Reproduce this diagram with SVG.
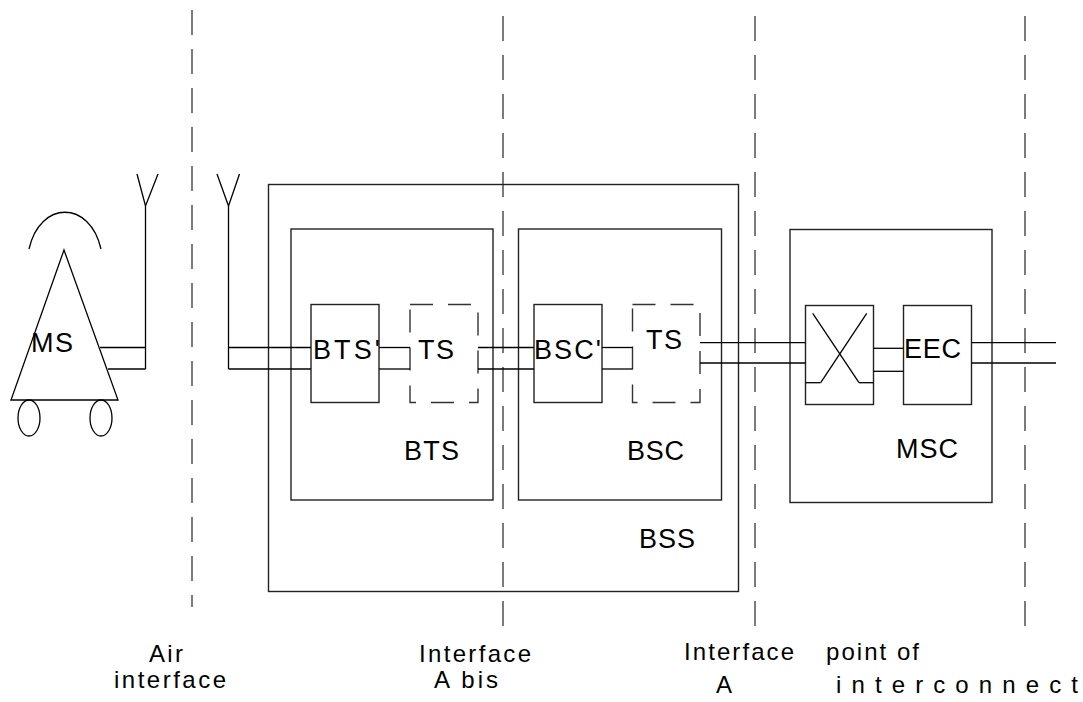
<svg xmlns="http://www.w3.org/2000/svg" width="1083" height="702" viewBox="0 0 1083 702">
<style>
.s{fill:none;stroke:#000;stroke-width:1.3}
.box{fill:none;stroke:#222;stroke-width:1.4}
.dbox{fill:none;stroke:#333;stroke-width:1.4;stroke-dasharray:23 15}
.iface{fill:none;stroke:#444;stroke-width:1.4;stroke-dasharray:25 14}
.lbl{font-family:"Liberation Sans",Arial,sans-serif;font-size:27px;fill:#000}
.cap{font-family:"Liberation Sans",Arial,sans-serif;font-size:24px;fill:#000}
</style>
<rect width="1083" height="702" fill="#fff"/>

<g id="interfaces">
<line class="iface" x1="192" y1="10" x2="192" y2="607"/>
<line class="iface" x1="503" y1="16" x2="503" y2="632"/>
<line class="iface" x1="755" y1="16" x2="755" y2="632"/>
<line class="iface" x1="1025" y1="16" x2="1025" y2="632"/>
</g>

<g id="MS">
<path class="s" d="M29,249 C40,200 90,200 101,249"/>
<polygon class="s" points="64,250 118,400 11,400"/>
<ellipse class="s" cx="29" cy="418" rx="11" ry="18"/>
<ellipse class="s" cx="101" cy="418" rx="11" ry="18"/>
<text class="lbl" x="31" y="352" textLength="42" lengthAdjust="spacing">MS</text>
</g>

<g id="antenna-ms">
<polyline class="s" points="137,174 145.5,206 158,174"/>
<line class="s" x1="145.5" y1="206" x2="145.5" y2="369"/>
</g>

<g id="antenna-bts">
<polyline class="s" points="217,174 228.5,206 239.5,174"/>
<line class="s" x1="228.5" y1="206" x2="228.5" y2="369"/>
</g>

<g id="BSS">
<rect class="box" x="268.5" y="184.5" width="470" height="407"/>
<text class="lbl" x="639" y="548" textLength="56" lengthAdjust="spacing">BSS</text>
</g>

<g id="BTS">
<rect class="box" x="291" y="229" width="202" height="271"/>
<text class="lbl" x="404" y="460" textLength="55" lengthAdjust="spacing">BTS</text>
</g>

<g id="BTS-prime">
<rect class="box" x="311" y="304.5" width="68" height="98"/>
<text class="lbl" x="313" y="359" textLength="67" lengthAdjust="spacing">BTS'</text>
</g>

<g id="TS-bts">
<rect class="dbox" x="410" y="304.5" width="68" height="98"/>
<text class="lbl" x="418" y="359" textLength="36" lengthAdjust="spacing">TS</text>
</g>

<g id="BSC">
<rect class="box" x="518.5" y="229" width="203" height="271"/>
<text class="lbl" x="627" y="460" textLength="57" lengthAdjust="spacing">BSC</text>
</g>

<g id="BSC-prime">
<rect class="box" x="534" y="304.5" width="68" height="98"/>
<text class="lbl" x="534" y="359" textLength="67" lengthAdjust="spacing">BSC'</text>
</g>

<g id="TS-bsc">
<rect class="dbox" x="632.5" y="304.5" width="67.5" height="98"/>
<text class="lbl" x="646" y="349" textLength="36" lengthAdjust="spacing">TS</text>
</g>

<g id="MSC">
<rect class="box" x="790" y="229.5" width="202" height="273"/>
<text class="lbl" x="896" y="458" textLength="62" lengthAdjust="spacing">MSC</text>
</g>

<g id="switch">
<rect class="box" x="805.5" y="305.5" width="68" height="99"/>
<line class="s" x1="812.7" y1="313.3" x2="859" y2="382.7"/>
<line class="s" x1="866.7" y1="313.3" x2="820.7" y2="382.7"/>
<line class="s" x1="805.5" y1="382.7" x2="820.7" y2="382.7" stroke="#555" stroke-width="1.8"/>
<line class="s" x1="859" y1="382.7" x2="874" y2="382.7" stroke="#555" stroke-width="1.8"/>
</g>

<g id="EEC">
<rect class="box" x="903.5" y="305.5" width="68" height="99"/>
<text class="lbl" x="904" y="358" textLength="57" lengthAdjust="spacing">EEC</text>
</g>

<g id="connectors">
<line class="s" x1="100" y1="347.5" x2="145.5" y2="347.5"/>
<line class="s" x1="108" y1="369" x2="145.5" y2="369"/>
<line class="s" x1="228.5" y1="347.5" x2="311" y2="347.5"/>
<line class="s" x1="228.5" y1="369" x2="311" y2="369"/>
<line class="s" x1="379" y1="347.5" x2="410" y2="347.5"/>
<line class="s" x1="379" y1="369" x2="410" y2="369"/>
<line class="s" x1="478" y1="347.5" x2="534" y2="347.5"/>
<line class="s" x1="478" y1="369" x2="534" y2="369"/>
<line class="s" x1="602" y1="347.5" x2="632.5" y2="347.5"/>
<line class="s" x1="602" y1="369" x2="632.5" y2="369"/>
<line class="s" x1="700" y1="342.7" x2="805.5" y2="342.7"/>
<line class="s" x1="700" y1="363" x2="805.5" y2="363"/>
<line class="s" x1="873.5" y1="348.3" x2="903.5" y2="348.3"/>
<line class="s" x1="873.5" y1="371.3" x2="903.5" y2="371.3"/>
<line class="s" x1="971.5" y1="342.7" x2="1056" y2="342.7"/>
<line class="s" x1="971.5" y1="363" x2="1056" y2="363"/>
</g>

<g id="labels">
<text class="cap" x="149" y="662" textLength="34" lengthAdjust="spacing">Air</text>
<text class="cap" x="114" y="688" textLength="112" lengthAdjust="spacing">interface</text>
<text class="cap" x="419" y="662" textLength="112" lengthAdjust="spacing">Interface</text>
<text class="cap" x="434" y="688" textLength="64" lengthAdjust="spacing">A bis</text>
<text class="cap" x="684" y="660" textLength="110" lengthAdjust="spacing">Interface</text>
<text class="cap" x="716" y="693">A</text>
<text class="cap" x="826" y="660" textLength="93" lengthAdjust="spacing">point of</text>
<text class="cap" x="836" y="693" textLength="242" lengthAdjust="spacing">interconnect</text>
</g>
</svg>
